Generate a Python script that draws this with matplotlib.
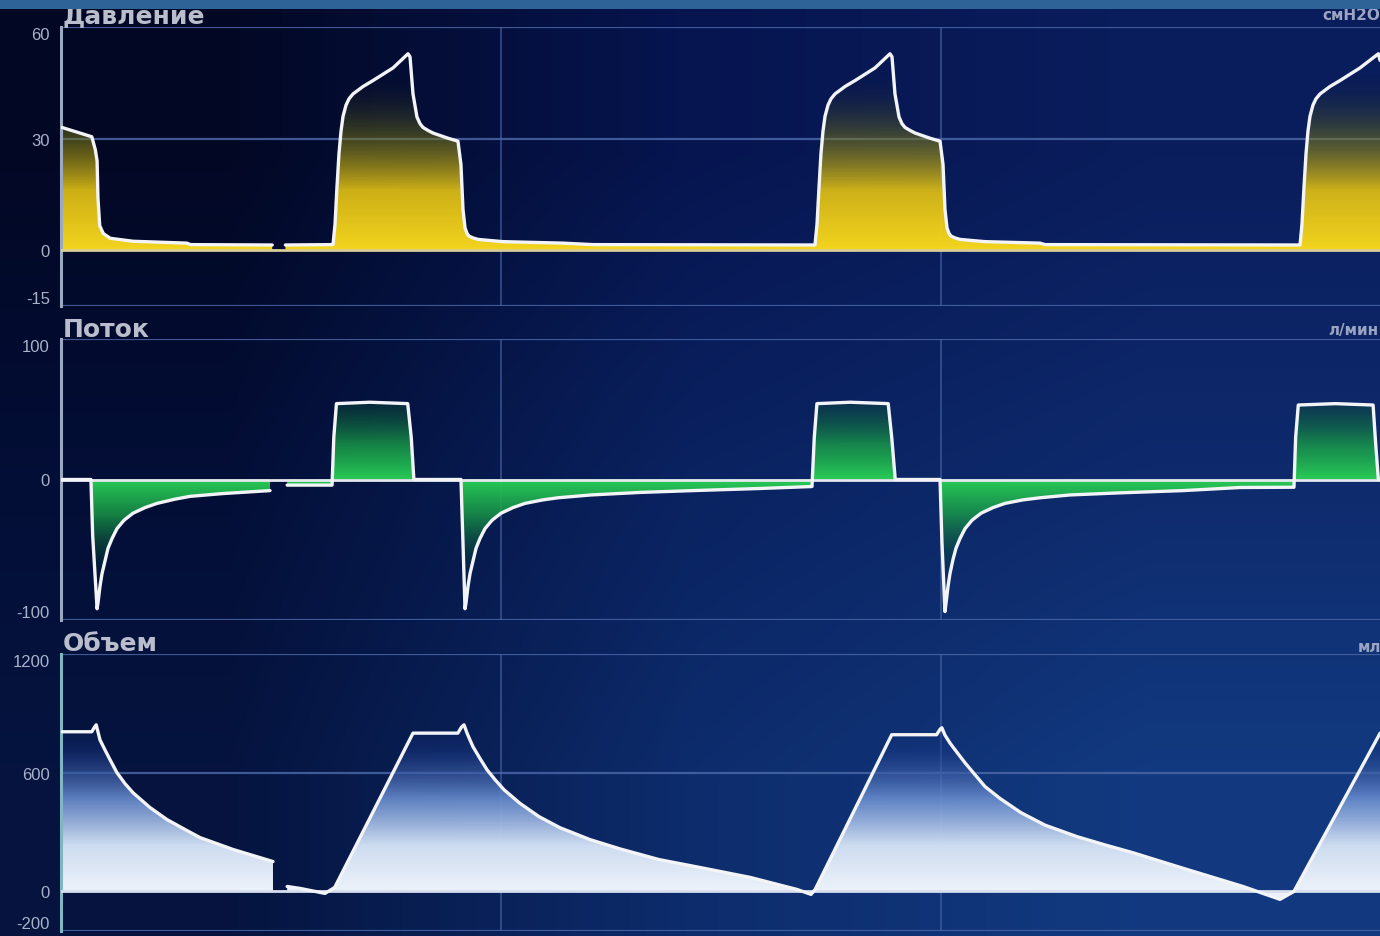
import numpy as np
import matplotlib
matplotlib.use("Agg")
import matplotlib.pyplot as plt
from matplotlib.colors import LinearSegmentedColormap
from matplotlib.patches import PathPatch, Rectangle
from matplotlib.path import Path

# time in s
# "old" = tail of previous sweep (left of the erase gap), "new" = current sweep
press_old_t = [0.01, 0.35, 0.39, 0.41, 0.42, 0.44, 0.48, 0.56, 0.82, 1.43, 1.47, 2.40]
press_old = [33.0, 30.5, 27.0, 24.0, 14.0, 6.6, 4.5, 3.2, 2.4, 1.9, 1.5, 1.4]

press_new_t = [2.55, 3.091, 3.114, 3.136, 3.159, 3.182, 3.205, 3.239, 3.273, 3.318, 3.432,
               3.545, 3.773, 3.943, 3.966, 4.000, 4.045, 4.080, 4.114, 4.170, 4.227,
               4.398, 4.511, 4.545, 4.568, 4.591, 4.614, 4.636, 4.682, 4.739, 5.023,
               5.705, 6.045,
               8.568, 8.591, 8.614, 8.636, 8.659, 8.682, 8.716, 8.750, 8.795, 8.909,
               9.023, 9.250, 9.420, 9.443, 9.477, 9.523, 9.557, 9.591, 9.648, 9.705,
               9.875, 9.989, 10.023, 10.045, 10.068, 10.091, 10.114, 10.159, 10.216,
               10.500, 11.125, 11.182,
               14.080, 14.102, 14.125, 14.148, 14.170, 14.193, 14.227, 14.261, 14.307,
               14.420, 14.534, 14.761, 14.970, 14.990]
press_new = [1.4, 1.5, 7, 17, 26, 32, 36, 39, 40.7, 42, 44,
             45.6, 49, 52.8, 52, 42, 35.8, 34, 33, 32.2, 31.5,
             30.1, 29.3, 23, 11, 6, 4.5, 3.8, 3.3, 2.9, 2.3,
             1.9, 1.5,
             1.4, 7, 17, 26, 32, 36, 39, 40.7, 42, 44,
             45.6, 49, 52.8, 52, 42, 35.8, 34, 33, 32.2, 31.5,
             30.1, 29.3, 23, 11, 6, 4.5, 3.8, 3.3, 2.9,
             2.3, 1.9, 1.5,
             1.4, 7, 17, 26, 32, 36, 39, 40.7, 42,
             44, 45.6, 49, 52.8, 51]

flow_old_t = [0.01, 0.34, 0.36, 0.41, 0.420, 0.443, 0.466, 0.500, 0.534, 0.580, 0.636,
              0.716, 0.818, 0.955, 1.091, 1.295, 1.466, 1.841, 2.375]
flow_old = [0, 0, -40, -92, -88, -76, -67, -58, -49, -42, -35,
            -29, -24, -20, -17, -14, -12, -10, -7.9]

flow_new_t = [2.57, 3.08, 3.10, 3.13, 3.51, 3.94, 3.98, 4.01, 4.545, 4.568, 4.591,
              4.602, 4.625, 4.648, 4.682, 4.716, 4.761, 4.818, 4.898, 5.000, 5.136,
              5.273, 5.477, 5.648, 6.023, 6.580, 7.182, 7.943, 8.534,
              8.56, 8.59, 8.97, 9.40, 9.44, 9.48, 9.989, 10.011, 10.045,
              10.057, 10.080, 10.102, 10.136, 10.170, 10.216, 10.273, 10.352, 10.455,
              10.591, 10.727, 10.932, 11.125, 11.466, 12.034, 12.750, 13.398, 14.011,
              14.03, 14.06, 14.48, 14.91, 14.94, 14.97, 15.0]
flow_new = [-4, -4, 30, 54, 55, 54, 30, 0, 0, -45, -92,
            -88, -76, -67, -58, -49, -42, -35, -29, -24, -20,
            -17, -14.5, -13, -11, -9.2, -7.9, -6.4, -5,
            30, 54, 55, 54, 30, 0, 0, -45, -94,
            -88, -76, -67, -57, -49, -42, -35, -29, -24,
            -20, -17, -14.5, -13, -11, -9.5, -7.9, -5.7, -5.5,
            30, 53, 54, 53, 25, 0, 0]

vol_old_t = [0.01, 0.35, 0.38, 0.40, 0.443, 0.500, 0.557, 0.636, 0.727, 0.818, 1.011,
             1.205, 1.409, 1.580, 1.955, 2.409]
vol_old = [807, 807, 830, 842, 766, 715, 666, 600, 545, 499, 424,
           363, 313, 272, 212, 151]

vol_new_t = [2.57, 2.72, 3.00, 3.11, 4.00, 4.51, 4.55, 4.58, 4.614, 4.648, 4.682,
             4.761, 4.841, 4.932, 5.034, 5.216, 5.432, 5.670, 6.011, 6.352, 6.795,
             7.261, 7.830, 8.364, 8.523,
             8.57, 9.44, 9.95, 9.99, 10.01, 10.045, 10.102, 10.159, 10.273, 10.386,
             10.500, 10.670, 10.909, 11.182, 11.545, 11.864, 12.170, 12.489, 12.795,
             13.114, 13.432, 13.852, 14.011, 14.99]
vol_new = [25, 15, -10, 20, 800, 800, 830, 842, 800, 765, 731,
           672, 615, 565, 514, 445, 378, 322, 262, 215, 161,
           121, 71, 10, -15,
           10, 792, 792, 820, 827, 790, 750, 716, 650, 590,
           530, 470, 398, 335, 277, 235, 197, 153, 111,
           68, 25, -40, 0, 800]

titles = ["Давление", "Поток", "Объем"]
units = ["смH2O", "л/мин", "мл"]
press_ticks = [-15, 0, 30, 60]
flow_ticks = [-100, 0, 100]
vol_ticks = [-200, 0, 600, 1200]

W, H = 1380, 937
X0 = 61  # px of the y axis
T_MAX = (W - X0) / 88.0

fig = plt.figure(figsize=(W / 100, H / 100), dpi=100)

# screen background
bg = fig.add_axes([0, 0, 1, 1], zorder=-10)
corners = np.array([
    [[0.008, 0.031, 0.141], [0.024, 0.082, 0.314], [0.039, 0.114, 0.361]],
    [[0.012, 0.055, 0.212], [0.039, 0.133, 0.376], [0.055, 0.165, 0.424]],
    [[0.020, 0.078, 0.247], [0.051, 0.173, 0.424], [0.071, 0.227, 0.502]],
])
bg.imshow(corners, extent=[0, 1, 0, 1], interpolation="bilinear", aspect="auto")
bg.set_axis_off()

label_font = ["Liberation Sans", "DejaVu Sans"]


def grad_fill(ax, t, v, colors, vmax):
    t = np.asarray(t, float)
    v = np.asarray(v, float)
    poly = ax.fill_between(t, v, 0, facecolor="none", edgecolor="none")
    path = Path.make_compound_path(*poly.get_paths())
    patch = PathPatch(path, transform=ax.transData, facecolor="none", edgecolor="none")
    ax.add_patch(patch)
    cmap = LinearSegmentedColormap.from_list("g", colors)
    ys = np.linspace(-vmax, vmax, 600)
    z = np.clip(np.abs(ys) / vmax, 0, 1)
    rgba = cmap(z)[:, None, :].repeat(4, axis=1)
    img = ax.imshow(rgba, extent=[t.min(), t.max(), -vmax, vmax], origin="lower",
                    aspect="auto", interpolation="bilinear", zorder=2)
    img.set_clip_path(patch)


def panel(top_px, bot_px, ticks, gridvals, spine_col):
    ax = fig.add_axes([X0 / W, (H - bot_px) / H, 1 - X0 / W, (bot_px - top_px) / H])
    ax.set_facecolor("none")
    for s in ["top", "right", "bottom"]:
        ax.spines[s].set_visible(False)
    ax.spines["left"].set_color(spine_col)
    ax.spines["left"].set_linewidth(2.2)
    ax.set_xticks([])
    ax.set_yticks(ticks)
    ax.set_yticklabels([str(k) for k in ticks], family=label_font, fontsize=12,
                       color="#a9b1c9")
    ax.tick_params(axis="y", length=0, pad=8)
    labels = ax.get_yticklabels()
    labels[0].set_verticalalignment("bottom")
    labels[-1].set_verticalalignment("top")
    for g in gridvals:
        ax.axhline(g, color="#4a66a6", lw=1.6, alpha=0.85, zorder=1)
    for xv in [5, 10]:
        ax.axvline(xv, color="#4a66a6", lw=1.2, alpha=0.7, zorder=1)
    return ax


ax_p = panel(28, 307, press_ticks, [60, 30, -15], "#9aa8c2")
ax_f = panel(340, 621, flow_ticks, [100, -100], "#9aa8c2")
ax_v = panel(655, 932, vol_ticks, [1200, 600, -200], "#7fb6c2")

yellow = [(0.96, 0.84, 0.12, 1.0), (0.88, 0.75, 0.08, 0.92), (0.45, 0.45, 0.08, 0.45),
          (0.05, 0.08, 0.15, 0.0)]
green = [(0.16, 0.80, 0.34, 1.0), (0.10, 0.62, 0.28, 0.8), (0.05, 0.35, 0.22, 0.45),
         (0.02, 0.15, 0.20, 0.0)]
white = [(0.93, 0.95, 0.98, 1.0), (0.80, 0.86, 0.94, 1.0), (0.40, 0.54, 0.80, 0.9),
         (0.10, 0.22, 0.52, 0.45), (0.04, 0.10, 0.35, 0.0)]

for t, v in [(press_old_t, press_old), (press_new_t, press_new)]:
    grad_fill(ax_p, t, v, yellow, 48)
for t, v in [(flow_old_t, flow_old), (flow_new_t, flow_new)]:
    grad_fill(ax_f, t, v, green, 75)
for t, v in [(vol_old_t, vol_old), (vol_new_t, vol_new)]:
    grad_fill(ax_v, t, v, white, 950)

ax_p.axhline(0, color="#d9cc96", lw=2.0, zorder=3)
ax_f.axhline(0, color="#e6e8ee", lw=2.0, zorder=3)
ax_v.axhline(0, color="#d6deef", lw=2.0, zorder=3)

trace = dict(color="#f3f4f7", lw=2.4, solid_joinstyle="round", solid_capstyle="round", zorder=5)
ax_p.plot(press_old_t, press_old, **trace)
ax_p.plot(press_new_t, press_new, **trace)
ax_f.plot(flow_old_t, flow_old, **trace)
ax_f.plot(flow_new_t, flow_new, **trace)
ax_v.plot(vol_old_t, vol_old, **trace)
ax_v.plot(vol_new_t, vol_new, **trace)

for ax, lim in [(ax_p, (-15, 60)), (ax_f, (-100, 100)), (ax_v, (-200, 1200))]:
    ax.set_xlim(0, T_MAX)
    ax.set_ylim(*lim)

# panel titles and units
for title, unit, base_px, unit_x, unit_y in zip(
        titles, units, [23, 337, 651], [1322, 1328, 1358], [15, 330, 648]):
    fig.text(63 / W, 1 - base_px / H, title, fontsize=18, fontweight="bold",
             color="#b9bdcc", va="baseline", ha="left")
    fig.text(unit_x / W, 1 - unit_y / H, unit, fontsize=11, fontweight="bold",
             color="#9ba5c2", va="center", ha="left")

# blue status strip at the top of the screen
fig.add_artist(Rectangle((0, 1 - 10 / H), 1, 10 / H, transform=fig.transFigure,
                         facecolor="#2d6396", edgecolor="none", zorder=20))

fig.savefig("out.png", dpi=100)
